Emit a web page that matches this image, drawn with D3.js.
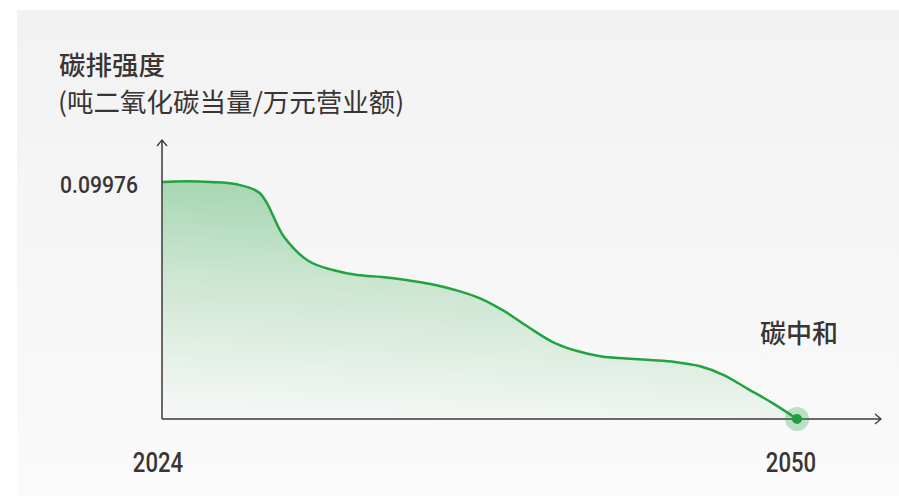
<!DOCTYPE html>
<html lang="zh">
<head>
<meta charset="UTF-8">
<title>碳排强度</title>
<script src="https://d3js.org/d3.v7.min.js"></script>
<style>
  body { margin: 0; background: #fff; }
  svg { display: block; }
  .cjk { font-family: "Noto Sans CJK SC", sans-serif; fill: #3a3434; }
  .num { font-family: Roboto, "Noto Sans", sans-serif; fill: #3a3434; }
</style>
</head>
<body>
<script>
// data
const years = [2024, 2025, 2026, 2027, 2028, 2029, 2030, 2031, 2032, 2033, 2034, 2035, 2036,
  2037, 2038, 2039, 2040, 2041, 2042, 2043, 2044, 2045, 2046, 2047, 2048, 2049, 2050];
const intensity = [0.09976, 0.1001, 0.0998, 0.0989, 0.0951, 0.0766, 0.0665, 0.0627, 0.0606,
  0.0598, 0.0585, 0.0568, 0.0543, 0.0509, 0.0455, 0.0387, 0.0324, 0.0286, 0.0263, 0.0255,
  0.0248, 0.0240, 0.0223, 0.0185, 0.0126, 0.0067, 0];
const xTicks = [2024, 2050];
const yTicks = [0.09976];

const W = 899, H = 496;
const svg = d3.select("body").append("svg").attr("width", W).attr("height", H);
const defs = svg.append("defs");

const bg = defs.append("linearGradient").attr("id", "bg")
  .attr("x1", 0).attr("y1", 0).attr("x2", 0).attr("y2", 1);
bg.append("stop").attr("offset", 0).attr("stop-color", "#f2f2f2");
bg.append("stop").attr("offset", 1).attr("stop-color", "#fafafa");

const area = defs.append("linearGradient").attr("id", "fillG")
  .attr("x1", 0.5).attr("y1", 0).attr("x2", 0.35).attr("y2", 1);
area.append("stop").attr("offset", 0).attr("stop-color", "#22a33f").attr("stop-opacity", 0.4);
area.append("stop").attr("offset", 0.45).attr("stop-color", "#22a33f").attr("stop-opacity", 0.2);
area.append("stop").attr("offset", 1).attr("stop-color", "#22a33f").attr("stop-opacity", 0.02);

svg.append("rect").attr("x", 17).attr("y", 10).attr("width", W - 17).attr("height", H - 10)
  .attr("fill", "url(#bg)");

const x = d3.scaleLinear().domain([2024, 2050]).range([162, 797]);
const y = d3.scaleLinear().domain([0, 0.09976]).range([419, 182]);

const data = years.map((yr, i) => ({ yr, v: intensity[i] }));
const curve = d3.curveCatmullRom.alpha(0.5);

svg.append("path").datum(data)
  .attr("fill", "url(#fillG)")
  .attr("d", d3.area().x(d => x(d.yr)).y0(y(0)).y1(d => y(d.v)).curve(curve));

svg.append("path").datum(data)
  .attr("fill", "none").attr("stroke", "#22a33f").attr("stroke-width", 2.5)
  .attr("d", d3.line().x(d => x(d.yr)).y(d => y(d.v)).curve(curve));

// axes with arrows
const axisCol = "#3c3838";
const yTop = 140, xRight = 881;
svg.append("line").attr("x1", x(2024)).attr("x2", x(2024)).attr("y1", y(0)).attr("y2", yTop)
  .attr("stroke", axisCol).attr("stroke-width", 1.5);
svg.append("line").attr("x1", x(2024)).attr("x2", xRight).attr("y1", y(0)).attr("y2", y(0))
  .attr("stroke", axisCol).attr("stroke-width", 1.5);
svg.append("path").attr("d", `M${x(2024) - 5},${yTop + 6}L${x(2024)},${yTop}L${x(2024) + 5},${yTop + 6}`)
  .attr("fill", "none").attr("stroke", axisCol).attr("stroke-width", 1.3);
svg.append("path").attr("d", `M${xRight - 6},${y(0) - 5}L${xRight},${y(0)}L${xRight - 6},${y(0) + 5}`)
  .attr("fill", "none").attr("stroke", axisCol).attr("stroke-width", 1.3);

// end point
const last = data[data.length - 1];
svg.append("circle").attr("cx", x(last.yr)).attr("cy", y(last.v)).attr("r", 12)
  .attr("fill", "#22a33f").attr("fill-opacity", 0.28);
svg.append("circle").attr("cx", x(last.yr)).attr("cy", y(last.v)).attr("r", 5)
  .attr("fill", "#1e9e3c");

// labels
svg.append("text").attr("class", "cjk").attr("x", 59).attr("y", 75)
  .style("font-size", "26.5px").style("font-weight", 500).text("碳排强度");
svg.append("text").attr("class", "cjk").attr("x", 58).attr("y", 112)
  .style("font-size", "26.5px").text("(吨二氧化碳当量/万元营业额)");

// numbers are drawn narrow, like a condensed face
svg.selectAll(".ytick").data(yTicks).enter().append("text").attr("class", "num")
  .attr("transform", d => `translate(60,${y(d) + 11}) scale(0.9,1)`)
  .style("font-size", "23.5px").style("font-weight", 500).text(d => d);

svg.selectAll(".xtick").data(xTicks).enter().append("text").attr("class", "num")
  .attr("transform", d => `translate(${x(d) + (d === 2024 ? -4 : -6)},472) scale(0.79,1)`)
  .attr("text-anchor", "middle")
  .style("font-size", "28px").style("font-weight", 500).text(d => d);

svg.append("text").attr("class", "cjk").attr("x", 799).attr("y", 343)
  .attr("text-anchor", "middle").style("font-size", "26px").style("font-weight", 500).text("碳中和");
</script>
</body>
</html>
